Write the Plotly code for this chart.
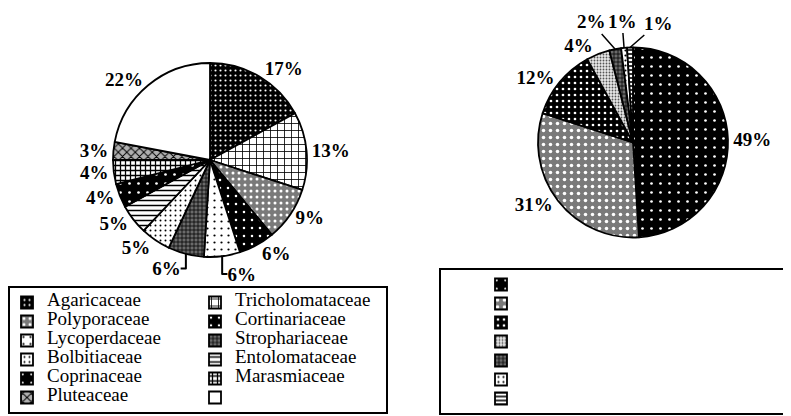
import math
import plotly.graph_objects as go

# ---------------- data ----------------
left_labels = ["Agaricaceae", "Tricholomataceae", "Polyporaceae", "Cortinariaceae",
               "Lycoperdaceae", "Strophariaceae", "Bolbitiaceae", "Entolomataceae",
               "Coprinaceae", "Marasmiaceae", "Pluteaceae", "\u200b"]
left_values = [17, 13, 9, 6, 6, 6, 5, 5, 4, 4, 3, 22]

# the right-hand legend carries no visible text in the reference (distinct blank labels)
right_labels = ["\u200b\u200b", "\u200b\u200b\u200b", "\u200b\u200b\u200b\u200b",
                "\u200b\u200b\u200b\u200b\u200b", "\u200b\u200b\u200b\u200b\u200b\u200b",
                "\u200b\u200b\u200b\u200b\u200b\u200b\u200b",
                "\u200b\u200b\u200b\u200b\u200b\u200b\u200b\u200b"]
right_values = [49, 31, 12, 4, 2, 1, 1]

# ---------------- styles ----------------
W, H = 791, 416
ML, MR = 35, 71
GW, GH = W - ML - MR, H

LEFT_DOMAIN = dict(x=[0.10219, 0.38540], y=[0.40144, 0.86779])
RIGHT_DOMAIN = dict(x=[0.72263, 1.0], y=[0.44832, 0.90505])


def pat(shape, bg, fg, size, solidity):
    return dict(shape=shape, bgcolor=bg, fgcolor=fg, size=size, solidity=solidity)


left_patterns = [
    pat(".", "black", "white", 5, 0.14),      # Agaricaceae
    pat("+", "white", "black", 7, 0.22),      # Tricholomataceae (brick)
    pat(".", "#7a7a7a", "white", 6, 0.2),     # Polyporaceae
    pat(".", "black", "white", 8, 0.08),      # Cortinariaceae
    pat(".", "white", "black", 7, 0.08),      # Lycoperdaceae
    pat("+", "#6a6a6a", "black", 4, 0.35),    # Strophariaceae
    pat(".", "white", "black", 5, 0.12),      # Bolbitiaceae
    pat("-", "white", "black", 5, 0.3),       # Entolomataceae (zigzag)
    pat(".", "black", "white", 9, 0.07),      # Coprinaceae
    pat("+", "white", "black", 5, 0.45),      # Marasmiaceae (checker)
    pat("x", "#b0b0b0", "black", 6, 0.3),     # Pluteaceae
    pat("", "white", "black", 8, 0.3),        # blank
]
right_patterns = [
    pat(".", "black", "white", 9, 0.07),
    pat(".", "#7a7a7a", "white", 7, 0.2),
    pat(".", "black", "white", 6, 0.16),
    pat(".", "#e8e8e8", "#555555", 3, 0.3),
    pat("+", "#6a6a6a", "black", 4, 0.35),
    pat(".", "white", "black", 5, 0.15),
    pat("-", "white", "black", 4, 0.4),
]


def pattern_obj(pats):
    return dict(shape=[p["shape"] for p in pats], bgcolor=[p["bgcolor"] for p in pats],
                fgcolor=[p["fgcolor"] for p in pats], size=[p["size"] for p in pats],
                solidity=[p["solidity"] for p in pats], fillmode="replace")


label_font = dict(family="Liberation Serif", size=19, color="black", weight="bold")
legend_label = "<span style='font-size:19px'>{}</span>"

# right pie: the three tiniest slices get callout labels instead of stacked outside text
n_callout = 3
right_textpos = ["outside"] * (len(right_values) - n_callout) + ["none"] * n_callout

fig = go.Figure()
fig.add_trace(go.Pie(
    labels=[legend_label.format(t) for t in left_labels], values=left_values,
    sort=False, direction="clockwise", rotation=0,
    texttemplate="%{percent:.0%}", textposition="outside", textfont=label_font,
    marker=dict(colors=[p["bgcolor"] for p in left_patterns], pattern=pattern_obj(left_patterns),
                line=dict(color="black", width=1.8)),
    domain=LEFT_DOMAIN, legend="legend", hoverinfo="label+percent",
))
fig.add_trace(go.Pie(
    labels=right_labels, values=right_values, sort=False, direction="clockwise", rotation=0,
    texttemplate="%{percent:.0%}", textposition=right_textpos, textfont=label_font,
    marker=dict(colors=[p["bgcolor"] for p in right_patterns], pattern=pattern_obj(right_patterns),
                line=dict(color="black", width=1.8)),
    domain=RIGHT_DOMAIN, legend="legend2", hoverinfo="percent",
))

# callouts for the tiny slices, anchored on the slice mid-angle on the rim
cx = ML + GW * sum(RIGHT_DOMAIN["x"]) / 2
cy = GH * (1 - sum(RIGHT_DOMAIN["y"]) / 2)
rad = min(GW * (RIGHT_DOMAIN["x"][1] - RIGHT_DOMAIN["x"][0]),
          GH * (RIGHT_DOMAIN["y"][1] - RIGHT_DOMAIN["y"][0])) / 2
callout_text_pos = [(583, 14), (614, 13), (650, 15)]   # label centres (px)
total = sum(right_values)
cum = 0
annotations = []
for i, v in enumerate(right_values):
    mid = (cum + v / 2) / total * 2 * math.pi
    cum += v
    k = i - (len(right_values) - n_callout)
    if k < 0:
        continue
    px = cx + rad * math.sin(mid)
    py = cy - rad * math.cos(mid)
    tx, ty = callout_text_pos[k]
    annotations.append(dict(
        x=(px - ML) / GW, y=1 - py / GH, xref="paper", yref="paper",
        text=f"{v / total * 100:.0f}%", showarrow=True, arrowhead=0, arrowwidth=1.5,
        arrowcolor="black", ax=tx - px, ay=ty - py,
        font=label_font,
    ))

fig.update_layout(
    width=W, height=H,
    margin=dict(l=ML, r=MR, t=0, b=0, autoexpand=False),
    paper_bgcolor="white", plot_bgcolor="white",
    showlegend=True,
    annotations=annotations,
    legend=dict(orientation="h", x=-ML / GW, xanchor="left", y=1 - 278 / H, yanchor="top",
                entrywidth=146, entrywidthmode="pixels", indentation=-3,
                bordercolor="black", borderwidth=2, bgcolor="white",
                font=dict(family="Liberation Serif", size=10, color="black"),
                traceorder="normal"),
    legend2=dict(orientation="h", x=(431 - ML) / GW, xanchor="left", y=1 - 260 / H, yanchor="top",
                 entrywidth=269, entrywidthmode="pixels", indentation=40,
                 bordercolor="black", borderwidth=2, bgcolor="white",
                 font=dict(family="Liberation Serif", size=10, color="black")),
)

fig.write_html("out.html")
